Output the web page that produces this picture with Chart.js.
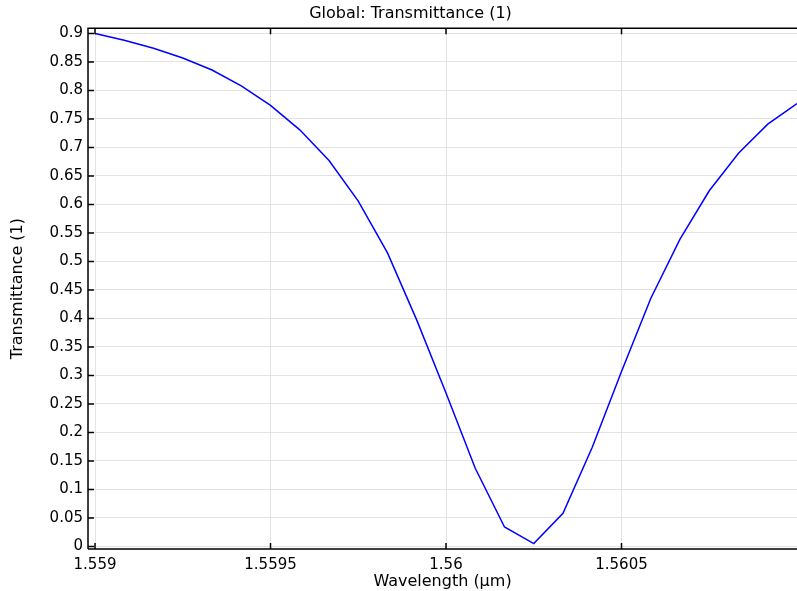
<!DOCTYPE html>
<html>
<head>
<meta charset="utf-8">
<script src="https://cdn.jsdelivr.net/npm/chart.js@4"></script>
<style>
  html,body{margin:0;padding:0;background:#fff;}
  #wrap{width:797px;height:591px;}
</style>
</head>
<body>
<div id="wrap"><canvas id="chart" width="797" height="591"></canvas></div>
<script>
// wavelength samples (µm) and transmittance
const wavelength = [1.559, 1.5590833, 1.5591667, 1.55925, 1.5593333, 1.5594167, 1.5595, 1.5595833,
  1.5596667, 1.55975, 1.5598333, 1.5599167, 1.56, 1.5600833, 1.5601667, 1.56025, 1.5603333,
  1.5604167, 1.5605, 1.5605833, 1.5606667, 1.56075, 1.5608333, 1.5609167, 1.561];
const transmittance = [0.900, 0.888, 0.874, 0.857, 0.836, 0.808, 0.774, 0.731, 0.677, 0.606,
  0.515, 0.397, 0.269, 0.137, 0.034, 0.005, 0.058, 0.174, 0.307, 0.435, 0.539, 0.624, 0.690, 0.741, 0.777];
const xTicks = [1.559, 1.5595, 1.56, 1.5605];
const yTicks = [0, 0.05, 0.1, 0.15, 0.2, 0.25, 0.3, 0.35, 0.4, 0.45, 0.5, 0.55, 0.6, 0.65, 0.7, 0.75, 0.8, 0.85, 0.9];

const FONT = 'DejaVu Sans';

// inward tick marks + frame, drawn off the scales
const frameTicks = {
  id:'frameTicks',
  afterLayout(chart){
    // title sits a bit right of the canvas centre in the original
    if(chart.titleBlock) chart.titleBlock.left += 24;
  },
  afterDraw(chart){
    const {ctx, chartArea:a, scales:{x,y}} = chart;
    ctx.save();
    ctx.strokeStyle = '#000'; ctx.lineWidth = 1.5;
    ctx.beginPath();
    ctx.moveTo(a.left, a.bottom); ctx.lineTo(a.left, a.top); ctx.lineTo(a.right, a.top);
    ctx.moveTo(a.left, a.bottom); ctx.lineTo(a.right, a.bottom);
    xTicks.forEach(v=>{
      const px = x.getPixelForValue(v);
      ctx.moveTo(px, a.bottom); ctx.lineTo(px, a.bottom-6);
      ctx.moveTo(px, a.top); ctx.lineTo(px, a.top+6);
    });
    yTicks.forEach(v=>{
      const py = y.getPixelForValue(v);
      ctx.moveTo(a.left, py); ctx.lineTo(a.left+6, py);
    });
    ctx.stroke();
    ctx.restore();
  }
};

new Chart(document.getElementById('chart'), {
  type:'line',
  data:{datasets:[{
    data: wavelength.map((w,i)=>({x:w, y:transmittance[i]})),
    borderColor:'#0000ff', borderWidth:1.5, pointRadius:0, tension:0, fill:false
  }]},
  options:{
    responsive:false, animation:false, devicePixelRatio:1,
    layout:{padding:{left:0,right:0,top:0,bottom:0}},
    plugins:{
      legend:{display:false}, tooltip:{enabled:false},
      title:{display:true, text:'Global: Transmittance (1)', color:'#000',
        font:{family:FONT, size:16, weight:'normal'}, padding:{top:4, bottom:5}}
    },
    scales:{
      x:{type:'linear', min:1.55898, max:1.561,
        afterBuildTicks:s=>{ s.ticks = xTicks.map(v=>({value:v})); },
        afterFit:s=>{ s.height = 42; },
        ticks:{color:'#000', font:{family:FONT, size:15}, padding:7, maxRotation:0,
          callback:v=>String(v)},
        grid:{color:'#e3e3e3', lineWidth:1, drawTicks:false},
        border:{display:false},
        title:{display:true, text:'Wavelength (µm)', color:'#000',
          font:{family:FONT, size:16}, padding:{top:-2, bottom:0}}
      },
      y:{min:-0.0046, max:0.9093,
        afterBuildTicks:s=>{ s.ticks = yTicks.map(v=>({value:v})); },
        afterFit:s=>{ s.width = 88; },
        ticks:{color:'#000', font:{family:FONT, size:15}, padding:5,
          callback:v=>String(+v.toFixed(2))},
        grid:{color:'#e3e3e3', lineWidth:1, drawTicks:false},
        border:{display:false},
        title:{display:true, text:'Transmittance (1)', color:'#000',
          font:{family:FONT, size:16}, padding:{top:8, bottom:0}}
      }
    }
  },
  plugins:[frameTicks]
});
</script>
</body>
</html>
